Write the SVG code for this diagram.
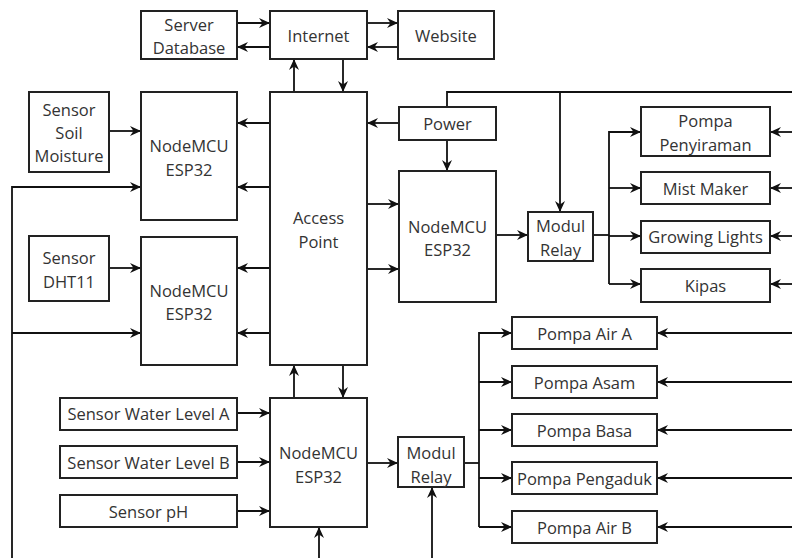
<svg xmlns="http://www.w3.org/2000/svg" width="792" height="558" viewBox="0 0 792 558">
<defs>
<marker id="ah" markerUnits="userSpaceOnUse" markerWidth="12" markerHeight="10" refX="11" refY="5" orient="auto">
<path d="M0,0 L11,5 L0,10 L3.5,5 z" fill="#111"/>
</marker>
<style>
rect{fill:#fff;stroke:#222;stroke-width:2}
text{font-family:"Open Sans","Noto Sans",sans-serif;font-size:16.5px;fill:#333;text-anchor:middle;dominant-baseline:central}
.c path,.c line{stroke:#111;stroke-width:1.8;fill:none}
.a{marker-end:url(#ah)}
</style>
</defs>
<rect x="0" y="0" width="792" height="558" style="fill:#fff;stroke:none"/>
<g class="c">
<line class="a" x1="237" y1="23" x2="270" y2="23"/>
<line class="a" x1="270" y1="47" x2="237" y2="47"/>
<line class="a" x1="367" y1="23" x2="398" y2="23"/>
<line class="a" x1="398" y1="47" x2="367" y2="47"/>
<line class="a" x1="294" y1="92" x2="294" y2="59"/>
<line class="a" x1="343" y1="59" x2="343" y2="92"/>
<line class="a" x1="109" y1="131" x2="141" y2="131"/>
<line class="a" x1="270" y1="123" x2="237" y2="123"/>
<line class="a" x1="270" y1="187" x2="237" y2="187"/>
<line class="a" x1="109" y1="268" x2="141" y2="268"/>
<line class="a" x1="270" y1="268" x2="237" y2="268"/>
<line class="a" x1="270" y1="333" x2="237" y2="333"/>
<path d="M12,558 L12,187 L141,187" class="a"/>
<line class="a" x1="12" y1="333" x2="141" y2="333"/>
<line class="a" x1="399" y1="123" x2="367" y2="123"/>
<path d="M447,107 L447,92 L792,92"/>
<line class="a" x1="560" y1="92" x2="560" y2="212"/>
<line class="a" x1="447" y1="140" x2="447" y2="171"/>
<line class="a" x1="367" y1="204" x2="399" y2="204"/>
<line class="a" x1="367" y1="269" x2="399" y2="269"/>
<line class="a" x1="496" y1="235" x2="528" y2="235"/>
<path d="M593,235 L609,235"/>
<path d="M609,284 L609,132 L641,132" class="a"/>
<line class="a" x1="609" y1="188" x2="641" y2="188"/>
<line class="a" x1="609" y1="236" x2="641" y2="236"/>
<line class="a" x1="609" y1="284" x2="641" y2="284"/>
<line class="a" x1="792" y1="132" x2="770" y2="132"/>
<line class="a" x1="792" y1="188" x2="770" y2="188"/>
<line class="a" x1="792" y1="236" x2="770" y2="236"/>
<line class="a" x1="792" y1="284" x2="770" y2="284"/>
<line class="a" x1="294" y1="398" x2="294" y2="365"/>
<line class="a" x1="343" y1="365" x2="343" y2="398"/>
<line class="a" x1="237" y1="413" x2="270" y2="413"/>
<line class="a" x1="237" y1="462" x2="270" y2="462"/>
<line class="a" x1="237" y1="511" x2="270" y2="511"/>
<line class="a" x1="319" y1="558" x2="319" y2="527"/>
<line class="a" x1="367" y1="463" x2="398" y2="463"/>
<line class="a" x1="432" y1="558" x2="432" y2="487"/>
<path d="M464,463 L479,463"/>
<path d="M479,527 L479,333 L512,333" class="a"/>
<line class="a" x1="479" y1="382" x2="512" y2="382"/>
<line class="a" x1="479" y1="430" x2="512" y2="430"/>
<line class="a" x1="479" y1="478" x2="512" y2="478"/>
<line class="a" x1="479" y1="527" x2="512" y2="527"/>
<line class="a" x1="792" y1="333" x2="657" y2="333"/>
<line class="a" x1="792" y1="382" x2="657" y2="382"/>
<line class="a" x1="792" y1="430" x2="657" y2="430"/>
<line class="a" x1="792" y1="478" x2="657" y2="478"/>
<line class="a" x1="792" y1="527" x2="657" y2="527"/>
</g>
<g id="server"><rect x="141" y="11" width="96" height="48"/><text x="189" y="24">Server</text><text x="189" y="47">Database</text></g>
<g id="internet"><rect x="270" y="11" width="97" height="48"/><text x="318.5" y="35">Internet</text></g>
<g id="website"><rect x="398" y="11" width="96" height="48"/><text x="446" y="35">Website</text></g>
<g id="soil"><rect x="29" y="92" width="80" height="80"/><text x="69" y="109">Sensor</text><text x="69" y="132">Soil</text><text x="69" y="155">Moisture</text></g>
<g id="node1"><rect x="141" y="92" width="96" height="128"/><text x="189" y="145">NodeMCU</text><text x="189" y="169">ESP32</text></g>
<g id="ap"><rect x="270" y="92" width="97" height="273"/><text x="318.5" y="217">Access</text><text x="318.5" y="241">Point</text></g>
<g id="dht"><rect x="29" y="236" width="80" height="65"/><text x="69" y="257">Sensor</text><text x="69" y="281">DHT11</text></g>
<g id="node2"><rect x="141" y="237" width="96" height="128"/><text x="189" y="290">NodeMCU</text><text x="189" y="313">ESP32</text></g>
<g id="power"><rect x="399" y="107" width="97" height="33"/><text x="447.5" y="123">Power</text></g>
<g id="node3"><rect x="399" y="171" width="97" height="131"/><text x="447.5" y="226">NodeMCU</text><text x="447.5" y="249">ESP32</text></g>
<g id="relay1"><rect x="528" y="212" width="65" height="49"/><text x="560.5" y="225">Modul</text><text x="560.5" y="249">Relay</text></g>
<g id="penyiraman"><rect x="641" y="107" width="129" height="49"/><text x="705.5" y="120">Pompa</text><text x="705.5" y="144">Penyiraman</text></g>
<g id="mist"><rect x="641" y="172" width="129" height="32"/><text x="705.5" y="188">Mist Maker</text></g>
<g id="lights"><rect x="641" y="221" width="129" height="32"/><text x="705.5" y="236">Growing Lights</text></g>
<g id="kipas"><rect x="641" y="269" width="129" height="33"/><text x="705.5" y="285">Kipas</text></g>
<g id="wla"><rect x="60" y="398" width="177" height="32"/><text x="148.5" y="413">Sensor Water Level A</text></g>
<g id="wlb"><rect x="60" y="446" width="177" height="32"/><text x="148.5" y="462">Sensor Water Level B</text></g>
<g id="ph"><rect x="60" y="495" width="177" height="32"/><text x="148.5" y="511">Sensor pH</text></g>
<g id="node4"><rect x="270" y="398" width="97" height="129"/><text x="318.5" y="452">NodeMCU</text><text x="318.5" y="476">ESP32</text></g>
<g id="relay2"><rect x="398" y="437" width="66" height="50"/><text x="431" y="452">Modul</text><text x="431" y="476">Relay</text></g>
<g id="pa"><rect x="512" y="317" width="145" height="32"/><text x="584.5" y="333">Pompa Air A</text></g>
<g id="pasam"><rect x="512" y="366" width="145" height="32"/><text x="584.5" y="382">Pompa Asam</text></g>
<g id="pbasa"><rect x="512" y="414" width="145" height="32"/><text x="584.5" y="430">Pompa Basa</text></g>
<g id="paduk"><rect x="512" y="462" width="145" height="32"/><text x="584.5" y="478">Pompa Pengaduk</text></g>
<g id="pb"><rect x="512" y="511" width="145" height="32"/><text x="584.5" y="527">Pompa Air B</text></g>
</svg>
